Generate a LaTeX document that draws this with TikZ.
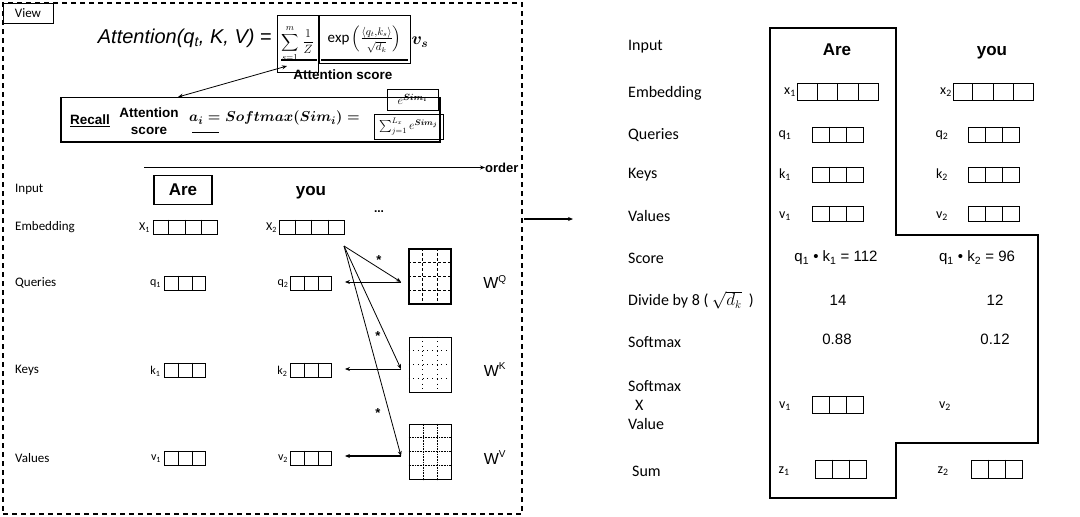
\documentclass[tikz,border=0pt]{standalone}
\usepackage{amsmath}
\usepackage{fontspec}
\setmainfont{Carlito}
\newfontfamily\arialf{Liberation Sans}
\usetikzlibrary{arrows.meta,calc}

\tikzset{
  lbl/.style={anchor=west, inner sep=0pt, font=\fontsize{13}{15}\selectfont},
  rlbl/.style={anchor=west, inner sep=0pt, font=\fontsize{16}{19}\selectfont},
  vsub/.style={inner sep=0pt, font=\fontsize{12}{14}\selectfont},
  rsub/.style={inner sep=0pt, font=\fontsize{14}{16}\selectfont},
  word/.style={inner sep=0pt, font=\arialf\bfseries\fontsize{17}{20}\selectfont},
  cellbox/.style={draw, line width=0.9pt, inner sep=0pt},
  cellline/.style={line width=0.7pt},
  mat/.style={draw, line width=1pt, minimum width=42pt, minimum height=55pt, inner sep=0pt},
  arr/.style={-{Stealth[length=5pt,width=4pt]}, line width=0.8pt},
  dblarr/.style={{Stealth[length=5pt,width=4pt]}-{Stealth[length=5pt,width=4pt]}, line width=0.8pt},
  num/.style={inner sep=0pt, font=\arialf\fontsize{15}{18}\selectfont},
  wlbl/.style={inner sep=0pt, font=\arialf\fontsize{16}{18}\selectfont},
  star/.style={inner sep=0pt, font=\arialf\bfseries\fontsize{13}{15}\selectfont},
  fbox/.style={draw, line width=0.6pt, inner sep=0pt},
}

\newcommand{\cellvec}[6]{%
  \node[cellbox, minimum width=#4pt, minimum height=#5pt] (#1) at (#2,#3) {};
  \pgfmathtruncatemacro{\cvlast}{#6-1}
  \foreach \k in {1,...,\cvlast}{\draw[cellline] ($(#1.north west)!{\k/#6}!(#1.north east)$) -- ($(#1.south west)!{\k/#6}!(#1.south east)$);}
}
\newcommand{\wmat}[5]{%
  \node[mat, #5] (#1) at (#2,#3) {};
  \foreach \k in {1,2}{\draw[#4] ($(#1.north west)!{\k/3}!(#1.north east)$) -- ($(#1.south west)!{\k/3}!(#1.south east)$);}
  \foreach \k in {1,2,3}{\draw[#4] ($(#1.north west)!{\k/4}!(#1.south west)$) -- ($(#1.north east)!{\k/4}!(#1.south east)$);}
}

\begin{document}
\begin{tikzpicture}[x=1pt,y=-1pt]
\useasboundingbox (0,0) rectangle (1080,517);
\fill[white] (0,0) rectangle (1080,517);

% ---------- left dashed panel ----------
\node[draw, dash pattern=on 5pt off 4pt, line width=1.4pt, minimum width=519pt, minimum height=511pt, inner sep=0pt] (panel) at (262.5,258.5) {};
\node[draw, fill=white, line width=0.8pt, minimum width=50pt, minimum height=20pt, inner sep=0pt, font=\fontsize{13}{15}\selectfont] (view) at (28,13) {View};

% formula
\node[anchor=east, inner sep=0pt, font=\arialf\itshape\fontsize{20}{24}\selectfont] (att) at (272,38) {Attention(q\textsubscript{t}, K, V) {\upshape =}};
\node[fbox, minimum width=41pt, minimum height=57pt, font=\fontsize{12.5}{15}\selectfont] (sumbox) at (297.5,43.5) {$\displaystyle\sum_{s=1}^{m}\,\frac{1}{Z}$};
\node[fbox, minimum width=91pt, minimum height=48pt, font=\fontsize{15}{18}\selectfont] (expbox) at (364.5,39) {$\mathrm{exp}\left(\genfrac{}{}{0.4pt}{1}{\langle q_t,k_s\rangle}{\rule{0pt}{1.6ex}\sqrt{d_k}}\right)$};
\draw[line width=2.4pt] (281,60) -- (317,60);
\draw[line width=2.4pt] (321,60) -- (408,60);
\node[inner sep=0pt, font=\fontsize{18}{20}\selectfont] (vs) at (420,42) {$\boldsymbol{v_s}$};
\node[inner sep=0pt, font=\arialf\bfseries\fontsize{13.5}{16}\selectfont] (attscore) at (343,75) {Attention score};

% recall box
\node[draw, line width=1.3pt, minimum width=379pt, minimum height=44.5pt, inner sep=0pt] (recallbox) at (250.5,119.75) {};
\coordinate (dA) at (287,66);
\coordinate (dB) at (178,97);
\draw[dblarr] (dA) -- (dB);
\node[inner sep=0pt, font=\arialf\bfseries\fontsize{13.5}{16}\selectfont] (recall) at (90,121) {\underline{Recall}};
\node[inner sep=0pt, align=center, font=\arialf\bfseries\fontsize{13.5}{17}\selectfont] (rscore) at (149,121.5) {Attention\\score};
\node[anchor=west, inner sep=0pt, font=\fontsize{15.5}{18}\selectfont] (aform) at (189,118) {$\boldsymbol{a_i = Softmax(Sim_i) =}$};
\draw[line width=1.5pt] (192,132.5) -- (219,132.5);
\node[fbox, minimum width=51pt, minimum height=21pt, font=\fontsize{13}{15}\selectfont] (numbox) at (412.5,99.5) {$e^{\boldsymbol{Sim_i}}$};
\node[fbox, minimum width=69pt, minimum height=25pt, font=\fontsize{12}{14}\selectfont] (denbox) at (408.5,126.5) {$\sum_{j=1}^{L_x} e^{\boldsymbol{Sim_j}}$};

% order
\coordinate (ostart) at (144,167.5);
\node[anchor=west, inner sep=0pt, font=\arialf\bfseries\fontsize{13}{15}\selectfont] (order) at (485,167.5) {order};
\draw[arr, line width=1.3pt] (ostart) -- (order.west);

% row labels
\node[lbl] (linput) at (15,189) {Input};
\node[lbl] (lemb) at (15,227) {Embedding};
\node[lbl] (lq) at (15,283) {Queries};
\node[lbl] (lk) at (15,370) {Keys};
\node[lbl] (lv) at (15,458) {Values};

% words
\node[draw, line width=1.8pt, minimum width=58pt, minimum height=29pt, inner sep=0pt, font=\arialf\bfseries\fontsize{17}{20}\selectfont] (are) at (183,190) {Are};
\node[word] (you) at (311,193) {you};
\node[inner sep=0pt, font=\arialf\bfseries\fontsize{12}{14}\selectfont] (dots) at (379,212) {...};

% vectors
\node[vsub] (X1l) at (144.5,228) {X\textsubscript{1}};
\cellvec{X1}{185}{227}{64}{14}{4}
\node[vsub] (X2l) at (271.5,228) {X\textsubscript{2}};
\cellvec{X2}{311.5}{227}{65}{14}{4}
\node[vsub] (q1l) at (155.5,284) {q\textsubscript{1}};
\cellvec{q1}{185}{283}{41}{14}{3}
\node[vsub] (q2l) at (283,284) {q\textsubscript{2}};
\cellvec{q2}{311}{283}{41}{14}{3}
\node[vsub] (k1l) at (155.5,371) {k\textsubscript{1}};
\cellvec{k1}{185}{370}{41}{14}{3}
\node[vsub] (k2l) at (282.5,371) {k\textsubscript{2}};
\cellvec{k2}{311}{370}{41}{14}{3}
\node[vsub] (v1l) at (156,459) {v\textsubscript{1}};
\cellvec{v1}{185}{458}{41}{14}{3}
\node[vsub] (v2l) at (283,459) {v\textsubscript{2}};
\cellvec{v2}{311}{458}{41}{14}{3}

% weight matrices
\wmat{WQ}{430}{276.5}{densely dashed, line width=0.7pt}{line width=1.5pt}
\wmat{WK}{430}{364.5}{loosely dotted, line width=0.7pt}{}
\wmat{WV}{430}{451.5}{densely dotted, line width=0.6pt}{}
\node[wlbl] (WQl) at (495,282) {W\textsuperscript{\fontsize{10}{10}\selectfont Q}};
\node[wlbl] (WKl) at (495,369.5) {W\textsuperscript{\fontsize{10}{10}\selectfont K}};
\node[wlbl] (WVl) at (495,457.5) {W\textsuperscript{\fontsize{10}{10}\selectfont V}};

% multiplication arrows
\coordinate (src) at (344,246);
\coordinate (qin) at (401,282);
\coordinate (kin) at (401,369);
\coordinate (vin) at (401,456);
\draw[arr] (src) -- (qin);
\draw[arr] (src) -- (kin);
\draw[arr] (src) -- (vin);
\draw[arr] (qin) -- ([xshift=13pt]q2.east |- qin);
\draw[arr] (kin) -- ([xshift=13pt]k2.east |- kin);
\draw[arr, line width=1.1pt] (vin) -- ([xshift=13pt]v2.east |- vin);
\node[star] (s1) at (379,260) {*};
\node[star] (s2) at (378,336) {*};
\node[star] (s3) at (378,413) {*};

% arrow between panels
\coordinate (pa) at (524,219);
\coordinate (pb) at (573,219);
\draw[arr, line width=1.3pt] (pa) -- (pb);

% ---------- right panel ----------
\draw[line width=1.8pt] (770,28) -- (896,28) -- (896,235) -- (1038,235) -- (1038,443) -- (896,443) -- (896,498) -- (770,498) -- cycle;

\node[rlbl] (rinput) at (628,47) {Input};
\node[rlbl] (remb) at (628,93) {Embedding};
\node[rlbl] (rq) at (628,135) {Queries};
\node[rlbl] (rk) at (628,175) {Keys};
\node[rlbl] (rv) at (628,216) {Values};
\node[rlbl] (rscore) at (628,258) {Score};
\node[rlbl] (rdiv) at (628,300) {Divide by 8 ( $\sqrt{d_k}$ \ )};
\node[rlbl] (rsm) at (628,342.5) {Softmax};
\node[rlbl, align=left] (rsmv) at (628,405.5) {Softmax\\\hspace*{7pt}X\\Value};
\node[rlbl] (rsum) at (632,471) {Sum};

\node[word] (rare) at (837,50) {Are};
\node[word] (ryou) at (992,53) {you};

\node[rsub] (rx1l) at (790,92) {x\textsubscript{1}};
\cellvec{rx1}{837.5}{92}{81}{17}{4}
\node[rsub] (rx2l) at (946,92) {x\textsubscript{2}};
\cellvec{rx2}{993}{92}{80}{17}{4}
\node[rsub] (rq1l) at (785,135) {q\textsubscript{1}};
\cellvec{rq1}{837.5}{134.5}{51}{15}{3}
\node[rsub] (rq2l) at (942,135) {q\textsubscript{2}};
\cellvec{rq2}{993.5}{134.5}{51}{15}{3}
\node[rsub] (rk1l) at (785,175) {k\textsubscript{1}};
\cellvec{rk1}{837.5}{174.5}{51}{15}{3}
\node[rsub] (rk2l) at (942,175) {k\textsubscript{2}};
\cellvec{rk2}{993.5}{174.5}{51}{15}{3}
\node[rsub] (rv1l) at (785,216) {v\textsubscript{1}};
\cellvec{rv1}{837.5}{214}{51}{15}{3}
\node[rsub] (rv2l) at (942,216) {v\textsubscript{2}};
\cellvec{rv2}{993.5}{214}{51}{15}{3}

\node[num] (sc1) at (836,258) {q\textsubscript{1} • k\textsubscript{1} = 112};
\node[num] (sc2) at (977,258) {q\textsubscript{1} • k\textsubscript{2} = 96};
\node[num] (d1) at (838,300) {14};
\node[num] (d2) at (995,300) {12};
\node[num] (sm1) at (837,339) {0.88};
\node[num] (sm2) at (995,339) {0.12};

\node[rsub] (rsv1l) at (785,406) {v\textsubscript{1}};
\cellvec{rsv1}{837.5}{405}{51}{17}{3}
\node[rsub] (rsv2l) at (945,406) {v\textsubscript{2}};

\node[rsub] (rz1l) at (784,471) {z\textsubscript{1}};
\cellvec{rz1}{840.5}{469}{51}{18}{3}
\node[rsub] (rz2l) at (943,471) {z\textsubscript{2}};
\cellvec{rz2}{996.5}{469}{51}{18}{3}
\end{tikzpicture}
\end{document}
